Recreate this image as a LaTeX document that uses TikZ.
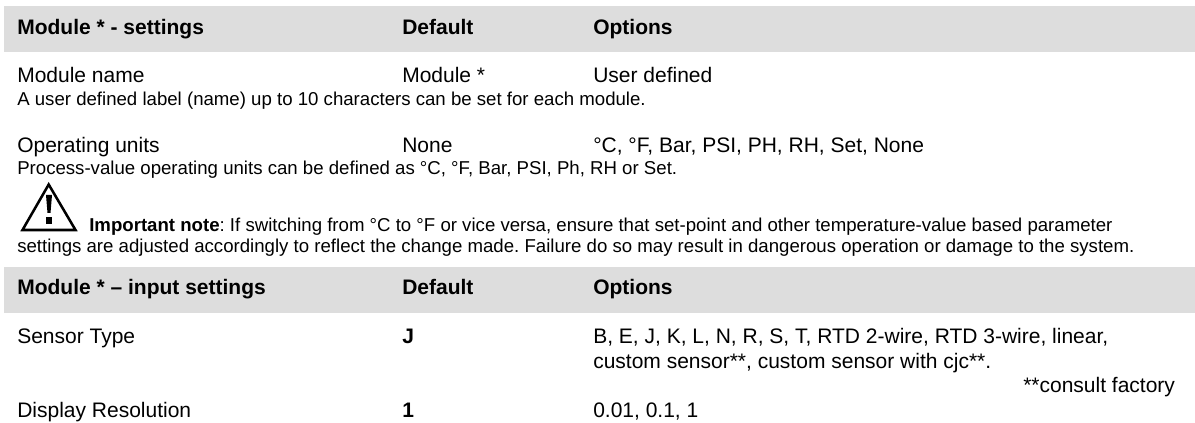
\documentclass[tikz,border=0pt]{standalone}
\usepackage{fontspec}
\setmainfont{Liberation Sans}
\frenchspacing
\definecolor{bar}{HTML}{DDDDDD}
\tikzset{
 x=0.75pt,y=-0.75pt,
 big/.style={anchor=base west,inner sep=0pt,font=\fontsize{15.75pt}{18pt}\selectfont},
 bigb/.style={anchor=base west,inner sep=0pt,font=\fontsize{15.75pt}{18pt}\selectfont\bfseries},
 small/.style={anchor=base west,inner sep=0pt,font=\fontsize{13.97pt}{16pt}\selectfont},
 bar/.style={fill=bar,draw=none}
}
\begin{document}
\begin{tikzpicture}
\useasboundingbox (0,0) rectangle (1195,423);
\fill[white] (0,0) rectangle (1195,423);
\path[bar] (4,6) rectangle (1195,52);
\path[bar] (4,267) rectangle (1195,313);
\node[bigb] (h1) at (17,34.5) {Module * - settings};
\node[bigb] (h1d) at (402,34.5) {Default};
\node[bigb] (h1o) at (593,34.5) {Options};
\node[big] (a1) at (17,83) {Module name};
\node[big] (a2) at (402,83) {Module *};
\node[big] (a3) at (593,83) {User defined};
\node[small] (a4) at (17,106) {A user defined label (name) up to 10 characters can be set for each module.};
\node[big] (b1) at (17,153) {Operating units};
\node[big] (b2) at (402,153) {None};
\node[big] (b3) at (593,153) {°C, °F, Bar, PSI, PH, RH, Set, None};
\node[small] (b4) at (17,175) {Process-value operating units can be defined as °C, °F, Bar, PSI, Ph, RH or Set.};
\draw[line width=1.9pt,line join=miter] (48.7,184.5) -- (75.5,230) -- (22.5,230) -- cycle;
\fill (46,195) -- (52,195) -- (50.5,213) -- (47.5,213) -- cycle;
\fill (46,217) rectangle (52,224.5);
\node[small] (n1) at (89,231.5) {\textbf{Important note}: If switching from °C to °F or vice versa, ensure that set-point and other temperature-value based parameter};
\node[small] (n2) at (17,253) {settings are adjusted accordingly to reflect the change made. Failure do so may result in dangerous operation or damage to the system.};
\node[bigb] (h2) at (17,295) {Module * – input settings};
\node[bigb] (h2d) at (402,295) {Default};
\node[bigb] (h2o) at (593,295) {Options};
\node[big] (c1) at (17,344) {Sensor Type};
\node[bigb] (c2) at (402,344) {J};
\node[big] (c3) at (593,344) {B, E, J, K, L, N, R, S, T, RTD 2-wire, RTD 3-wire, linear,};
\node[big] (c4) at (593,368.5) {custom sensor**, custom sensor with cjc**.};
\node[big] (c5) at (1023,393) {**consult factory};
\node[big] (d1) at (17,418) {Display Resolution};
\node[bigb] (d2) at (402,418) {1};
\node[big] (d3) at (593,418) {0.01, 0.1, 1};
\end{tikzpicture}
\end{document}
